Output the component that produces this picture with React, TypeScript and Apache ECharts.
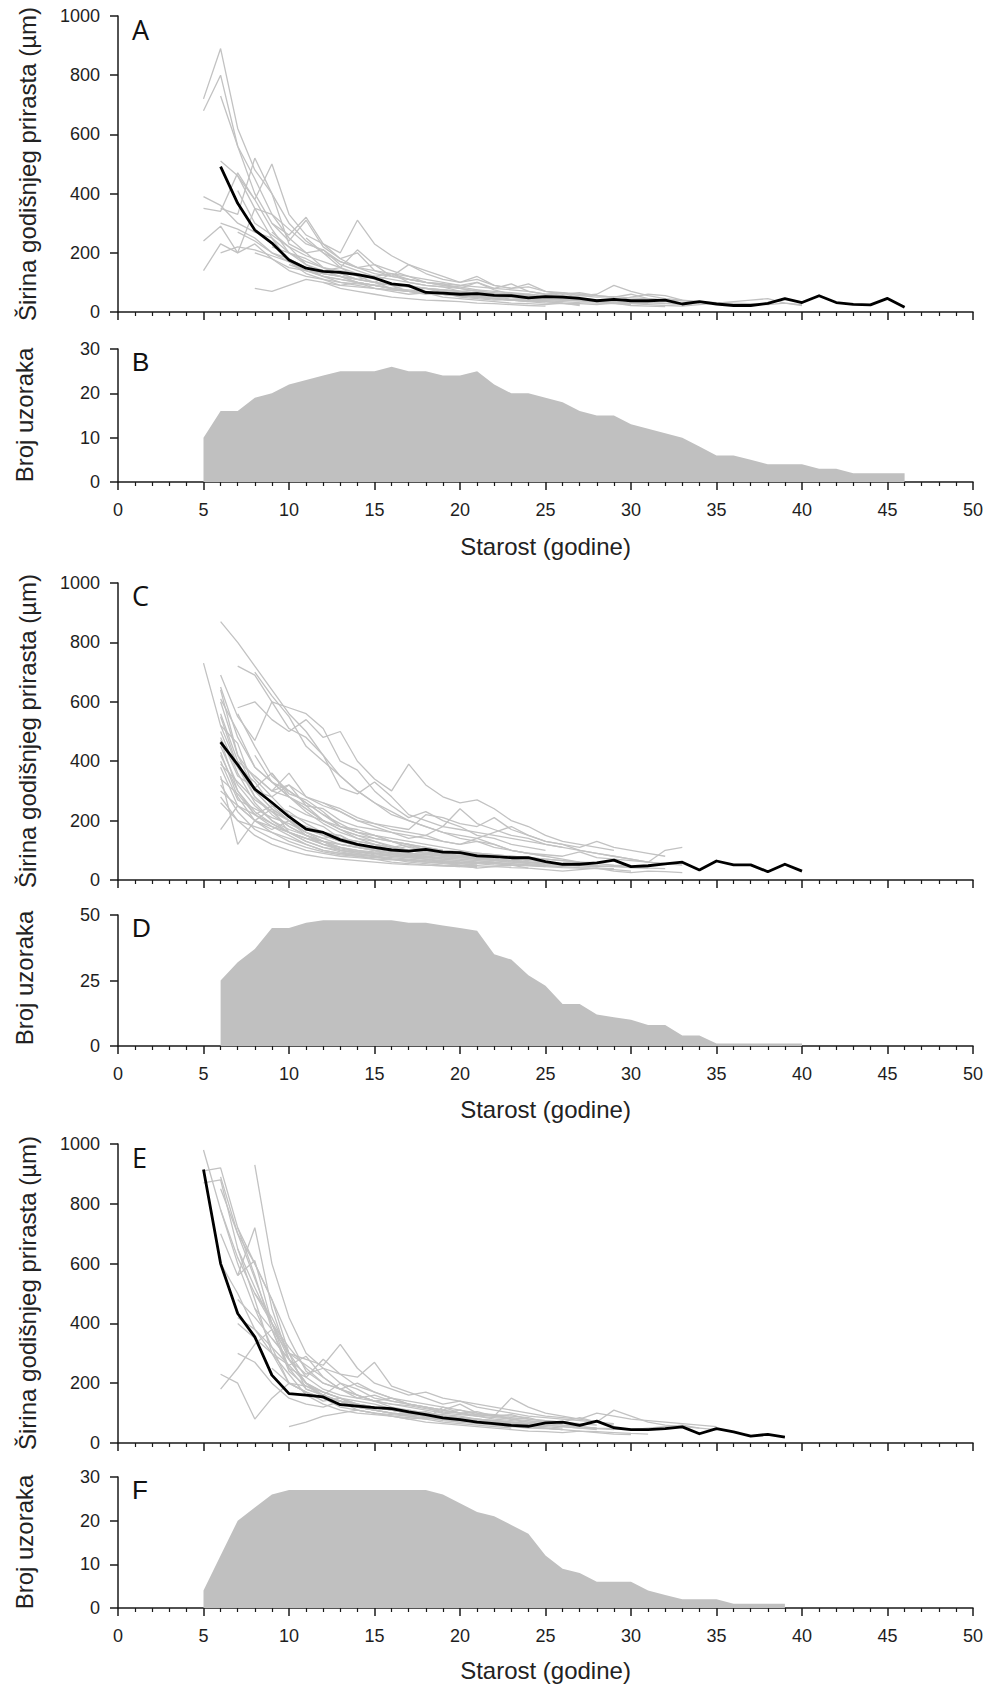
import React, { useEffect, useRef } from "react";
import * as echarts from "echarts";

// ---------- DATA ----------
// Panel A: mean ring width (ages 6..46)
const meanAStart = 6;
const meanA = [491, 367, 277, 233, 176, 148, 137, 134, 126, 115, 95, 89, 66, 64, 60, 62, 56, 55, 48, 52, 50, 46, 38, 43, 38, 38, 40, 27, 35, 27, 22, 22, 29, 45, 32, 55, 32, 26, 24, 46, 16];
// Panel B: sample count (ages 5..46)
const countBStart = 5;
const countB = [10, 16, 16, 19, 20, 22, 23, 24, 25, 25, 25, 26, 25, 25, 24, 24, 25, 22, 20, 20, 19, 18, 16, 15, 15, 13, 12, 11, 10, 8, 6, 6, 5, 4, 4, 4, 3, 3, 2, 2, 2, 2];
// Panel A individual series
const greyAStarts = [5, 5, 6, 5, 5, 5, 5, 6, 7, 8, 6, 7, 9, 8, 10, 6, 11, 9, 6, 7, 10, 9, 12];
const greyAValues = [
  [720, 890, 620, 480, 400, 300, 240, 200, 150, 130, 110, 95, 90, 80, 70, 65, 60, 55, 60, 50, 45, 40, 42, 38, 35, 30, 32, 28, 25, 30],
  [680, 800, 560, 450, 330, 250, 200, 210, 160, 140, 120, 130, 100, 90, 85, 70, 75, 60, 55, 50, 45, 48, 40],
  [730, 560, 400, 300, 240, 310, 220, 180, 150, 160, 120, 110, 100, 95, 80, 70, 60, 55, 50, 45],
  [390, 360, 300, 270, 250, 200, 160, 140, 150, 120, 100, 80, 90, 70, 60, 55, 50, 45, 40, 38, 35, 30, 28, 25, 30, 22, 20, 18],
  [350, 340, 470, 380, 280, 200, 180, 150, 130, 110, 120, 90, 70, 80, 65, 55, 50, 60, 40, 35, 30, 28, 25],
  [240, 290, 200, 230, 180, 140, 120, 110, 100, 90, 80, 75, 70, 60, 65, 50, 45, 40, 42, 38, 35],
  [140, 230, 200, 350, 250, 170, 130, 110, 90, 100, 80, 70, 60, 65, 50, 45, 40, 35, 30, 28, 25, 30, 22],
  [510, 460, 380, 500, 330, 260, 230, 200, 310, 230, 190, 160, 140, 120, 100, 110, 90, 80, 85, 70, 60, 65, 55, 50],
  [410, 300, 260, 220, 160, 130, 120, 100, 90, 80, 75, 70, 60, 55, 50, 45, 40, 35],
  [80, 70, 90, 110, 100, 80, 70, 60, 50, 45, 40, 38, 35, 30, 28, 25, 22, 20],
  [350, 330, 520, 400, 230, 200, 150, 130, 110, 100, 90, 85, 80, 75, 70, 60, 55, 50, 45, 40],
  [460, 350, 330, 280, 230, 210, 170, 150, 140, 120, 160, 130, 110, 100, 120, 90, 80, 95, 70, 65, 60, 55, 50, 60, 45, 40],
  [300, 260, 320, 230, 180, 200, 140, 130, 120, 110, 100, 90, 85, 80, 95, 70, 60, 65, 55, 50, 52, 48, 45, 40, 38, 35, 32, 30, 28, 25, 30, 22],
  [200, 180, 150, 140, 130, 120, 110, 100, 130, 110, 100, 95, 90, 100, 80, 75, 70, 60, 55, 50],
  [180, 150, 140, 120, 110, 100, 95, 85, 80, 75, 70, 65, 60, 55, 60, 50, 45, 40, 35, 30, 28, 25, 22, 20, 25, 30, 35, 40, 45, 30, 25],
  [200, 220, 210, 190, 170, 140, 120, 100, 95, 90, 80, 70, 65, 60, 55, 50, 45, 42, 40],
  [250, 200, 170, 150, 130, 120, 110, 100, 90, 85, 75, 70, 65, 60, 55, 50, 55, 60, 90, 70, 55, 45, 40, 35, 30, 25],
  [270, 220, 190, 170, 150, 210, 160, 140, 120, 100, 90, 80, 100, 75, 60, 55, 50, 65, 45, 40, 35, 50, 60, 55, 40],
  [300, 280, 250, 200, 170, 150, 130, 120, 100, 90, 80, 70, 65, 60, 55, 50, 45, 42, 40, 38, 35, 32, 30, 28, 25],
  [270, 240, 200, 180, 150, 120, 110, 100, 90, 80, 70, 65, 60, 55, 50, 45, 40, 38, 35, 30],
  [160, 140, 120, 110, 100, 90, 95, 85, 80, 75, 70, 60, 55, 50, 45, 40, 42, 38, 35, 30, 28],
  [220, 200, 170, 150, 140, 130, 120, 110, 100, 90, 85, 80, 70, 65, 60, 55, 50, 48, 45, 40, 35, 30, 32, 30, 28],
  [100, 90, 85, 80, 75, 70, 65, 60, 58, 55, 50, 48, 45, 42, 40, 38, 35, 32, 30, 28],
];

// Panel C: mean (ages 6..40)
const meanCStart = 6;
const meanC = [464, 388, 306, 261, 213, 171, 160, 135, 120, 110, 101, 97, 103, 94, 92, 81, 79, 75, 75, 62, 53, 53, 58, 67, 45, 48, 54, 60, 34, 64, 51, 51, 28, 53, 30];
// Panel D: sample count (ages 6..40)
const countDStart = 6;
const countD = [25, 32, 37, 45, 45, 47, 48, 48, 48, 48, 48, 47, 47, 46, 45, 44, 35, 33, 27, 23, 16, 16, 12, 11, 10, 8, 8, 4, 4, 1, 1, 1, 1, 1, 1];
const greyCStarts = [5, 6, 6, 6, 6, 6, 6, 6, 6, 6, 6, 6, 6, 6, 6, 6, 7, 8, 7, 7, 8, 9, 10, 6, 12, 6, 6, 6, 6, 6, 6, 6, 6, 6, 7, 8, 9, 10, 6];
const greyCValues = [
  [730, 520, 380, 300, 240, 200, 160, 140, 120, 110, 100, 90, 85, 80, 70, 65, 60, 55, 50, 48, 45],
  [870, 800, 720, 640, 560, 500, 420, 350, 300, 260, 220, 200, 180, 160, 140, 130, 120, 100, 90, 80, 70, 60],
  [690, 550, 470, 600, 580, 560, 510, 400, 370, 300, 250, 210, 230, 200, 180, 150, 140, 120, 110, 100],
  [650, 480, 380, 330, 300, 260, 220, 180, 160, 150, 130, 120, 100, 95, 90, 85, 80, 75],
  [600, 420, 340, 280, 320, 250, 200, 170, 140, 130, 110, 120, 100, 90, 80, 75, 70, 65, 60, 55],
  [550, 380, 330, 250, 230, 190, 160, 150, 120, 110, 105, 100, 90, 80, 85, 70, 65, 60, 55, 50, 52, 48],
  [520, 460, 300, 280, 220, 200, 180, 140, 130, 120, 100, 90, 85, 90, 80, 70],
  [480, 350, 310, 360, 290, 270, 230, 180, 160, 150, 130, 110, 100, 95, 90, 85, 80, 70, 65, 60, 55, 50, 45, 48, 42, 40],
  [450, 320, 250, 200, 170, 150, 130, 120, 110, 100, 90, 80, 75, 70, 65, 60, 58, 55, 52, 50],
  [420, 300, 230, 190, 160, 140, 120, 110, 100, 95, 90, 85, 80, 75, 70, 65, 60, 55, 50, 45, 42, 40, 38, 35, 30],
  [400, 270, 240, 210, 190, 160, 140, 150, 120, 110, 100, 115, 95, 90, 80, 85, 70, 65],
  [380, 250, 200, 170, 200, 180, 160, 140, 130, 120, 110, 100, 105, 90, 80, 75, 70, 65, 60],
  [350, 120, 200, 180, 160, 140, 130, 100, 90, 80, 70, 60, 55, 50, 48, 45],
  [300, 250, 220, 250, 200, 150, 120, 100, 90, 80, 70, 65, 60, 58, 55, 50],
  [280, 200, 180, 160, 140, 120, 100, 90, 80, 70, 60, 55, 50, 48, 45],
  [170, 250, 200, 240, 160, 130, 110, 100, 95, 90, 80, 75, 70, 65, 60],
  [720, 690, 600, 510, 480, 420, 310, 290, 330, 280, 220, 200, 180, 240, 190, 170, 150, 140, 120, 110],
  [700, 620, 550, 450, 400, 350, 300, 260, 230, 200, 180, 160, 150, 140, 120, 100, 90, 80],
  [580, 600, 540, 500, 540, 480, 500, 400, 340, 300, 390, 320, 280, 260, 270, 240, 200, 180, 150, 130, 120, 110, 100],
  [400, 350, 300, 360, 280, 250, 230, 200, 190, 180, 170, 220, 210, 190, 180, 210, 170, 150, 130, 120, 110, 130, 110, 100, 90, 80],
  [350, 300, 320, 280, 260, 230, 200, 180, 160, 150, 140, 130, 120, 130, 110, 100, 90, 85, 80, 95, 75, 70, 65, 60, 100, 110],
  [300, 280, 250, 240, 200, 180, 170, 160, 140, 150, 130, 120, 140, 160, 180, 150, 130, 120, 100, 90, 80, 70, 60, 55, 50],
  [250, 220, 200, 180, 170, 150, 140, 130, 120, 110, 100, 90, 80, 75, 70, 60, 55, 50, 48, 45, 42, 40, 38],
  [460, 380, 280, 230, 200, 180, 150, 130, 120, 100, 90, 80, 70, 60, 50, 40, 45, 50, 40, 35, 30, 35, 40, 30, 25, 30, 28, 25],
  [260, 240, 210, 190, 170, 160, 150, 180, 170, 160, 150, 140, 130, 120, 110, 100, 90, 80, 70, 60, 55],
  [640, 420, 300, 240, 200, 170, 150, 130, 115, 105, 95, 90, 85, 80, 75, 70, 68, 65, 60],
  [560, 400, 280, 220, 180, 150, 130, 110, 100, 90, 85, 80, 78, 75, 70, 65, 60],
  [500, 360, 260, 200, 160, 140, 120, 105, 95, 90, 85, 80, 90, 85, 75, 70, 65, 60, 58, 55, 50],
  [470, 300, 220, 180, 150, 120, 100, 90, 85, 80, 75, 70, 65, 62, 60, 58, 55],
  [430, 280, 200, 160, 130, 110, 95, 85, 80, 75, 70, 68, 65, 60, 58, 55, 50, 48],
  [390, 330, 270, 230, 180, 150, 130, 120, 110, 100, 90, 80, 75, 70, 80, 75, 70, 65, 60],
  [340, 290, 220, 190, 160, 130, 110, 95, 85, 80, 70, 65, 60, 55, 50, 48, 45, 42, 40],
  [320, 230, 170, 140, 120, 100, 90, 80, 75, 70, 68, 65, 62, 60, 55, 50],
  [260, 200, 150, 120, 100, 85, 75, 70, 65, 60, 55, 52, 50, 48, 45, 42],
  [560, 450, 350, 300, 260, 220, 190, 160, 140, 130, 120, 110, 100, 95, 90, 85, 80, 75, 70, 65, 60, 58],
  [420, 330, 280, 240, 200, 170, 150, 140, 130, 120, 110, 100, 95, 90, 85, 80, 75, 70, 65, 60, 55, 50, 48],
  [360, 280, 230, 190, 160, 140, 120, 110, 100, 95, 90, 80, 75, 70, 65, 60, 55],
  [200, 160, 130, 110, 95, 85, 80, 75, 70, 65, 60, 58, 55, 52, 50, 48, 45, 42, 40, 38],
  [610, 500, 380, 330, 280, 240, 200, 170, 150, 130, 115, 100, 90, 85, 80, 75, 70, 65, 60, 55, 50, 48, 45],
];

// Panel E: mean (ages 5..39)
const meanEStart = 5;
const meanE = [915, 600, 433, 355, 227, 165, 160, 154, 128, 123, 118, 115, 104, 95, 84, 78, 70, 65, 59, 56, 67, 70, 59, 73, 51, 45, 45, 48, 54, 31, 48, 37, 23, 29, 20];
// Panel F: sample count (ages 5..39)
const countFStart = 5;
const countF = [4, 12, 20, 23, 26, 27, 27, 27, 27, 27, 27, 27, 27, 27, 26, 24, 22, 21, 19, 17, 12, 9, 8, 6, 6, 6, 4, 3, 2, 2, 2, 1, 1, 1, 1];
const greyEStarts = [5, 5, 5, 6, 6, 6, 6, 6, 6, 7, 7, 7, 7, 8, 8, 9, 10, 7, 6, 7, 7, 8, 9];
const greyEValues = [
  [980, 780, 600, 450, 320, 200, 170, 150, 130, 120, 110, 100, 95, 90, 85, 80, 75, 70, 65, 60],
  [910, 920, 720, 560, 380, 250, 180, 160, 140, 130, 120, 110, 100, 105, 90, 85, 80, 70, 60, 55, 50, 45],
  [870, 880, 650, 480, 300, 200, 190, 170, 150, 140, 130, 115, 110, 100, 90, 85, 80, 75, 70, 65],
  [890, 700, 600, 480, 350, 240, 200, 180, 150, 160, 140, 130, 120, 110, 100, 90, 95, 80, 70, 75, 60, 55, 50],
  [780, 620, 500, 420, 300, 260, 220, 180, 160, 140, 150, 130, 120, 100, 110, 95, 90, 80, 85, 70, 65],
  [700, 560, 720, 450, 280, 200, 170, 150, 120, 110, 100, 95, 90, 85, 80, 75, 70],
  [600, 500, 380, 300, 260, 290, 220, 180, 200, 170, 150, 130, 120, 110, 100, 105, 90, 95, 80, 75, 70, 85, 70, 60],
  [230, 200, 80, 150, 200, 170, 140, 150, 130, 120, 110, 100, 90, 80, 70, 75, 60, 55],
  [180, 250, 330, 380, 240, 190, 160, 140, 120, 110, 100, 90, 80, 70, 65, 60, 55, 50],
  [720, 600, 480, 300, 180, 160, 200, 160, 140, 120, 110, 100, 95, 90, 80, 75, 70, 65, 60, 55, 50, 48, 45],
  [560, 610, 400, 250, 220, 280, 230, 190, 170, 150, 140, 130, 120, 110, 100, 95, 90, 85],
  [480, 420, 350, 280, 200, 150, 120, 110, 100, 90, 80, 85, 75, 70, 65, 60, 55, 50, 48, 45],
  [400, 350, 300, 230, 160, 130, 110, 100, 95, 90, 80, 70, 65, 60, 55, 50, 45, 40, 38, 35, 40, 35, 30, 28],
  [930, 600, 420, 300, 250, 230, 220, 270, 190, 170, 150, 130, 140, 120, 110, 100, 90, 85, 80, 75, 70, 65],
  [450, 380, 300, 280, 260, 330, 250, 200, 180, 160, 170, 150, 140, 130, 120, 110, 100, 90, 85, 80, 100, 90, 80, 75, 70, 65, 60, 55],
  [350, 280, 230, 250, 200, 180, 150, 140, 130, 120, 110, 130, 100, 90, 150, 120, 100, 90, 80, 70, 110, 90, 70, 60, 55, 50, 45],
  [55, 70, 90, 100, 110, 100, 95, 90, 85, 80, 75, 70, 65, 60, 55, 50, 45, 40, 38, 35, 32, 30],
  [300, 270, 200, 150, 130, 120, 140, 110, 100, 90, 85, 80, 120, 100, 90, 80, 75, 70, 65, 60, 55, 50, 48, 45, 50, 55, 60, 50],
  [850, 700, 550, 400, 280, 200, 160, 140, 120, 110, 100, 95, 90, 85, 80, 75, 70, 65, 60, 55],
  [650, 520, 400, 320, 250, 200, 180, 160, 140, 130, 120, 110, 100, 95, 90, 85, 80, 75, 70],
  [420, 380, 320, 260, 200, 170, 150, 130, 120, 110, 100, 90, 85, 80, 75, 70, 65, 60, 55, 50],
  [500, 400, 300, 220, 180, 160, 150, 140, 130, 125, 115, 105, 100, 95, 90, 85, 80, 75, 70, 65, 60],
  [250, 200, 170, 150, 140, 130, 120, 110, 100, 95, 90, 85, 80, 75, 70, 65, 60, 55, 50, 45],
];

const panelLetters = ["A", "B", "C", "D", "E", "F"];
const yMaxes = [1000, 30, 1000, 50, 1000, 30];
const yIntervals = [200, 10, 200, 25, 200, 10];
const widthTitle = "Širina godišnjeg prirasta (µm)";
const countTitle = "Broj uzoraka";
const xTitle = "Starost (godine)";

// ---------- LAYOUT ----------
const LEFT = 118;
const PLOT_W = 855;
const gridBoxes = [
  { top: 16, height: 296 },
  { top: 349, height: 133 },
  { top: 583, height: 297 },
  { top: 915, height: 131 },
  { top: 1144, height: 299 },
  { top: 1477, height: 131 },
];
const letterY = [29, 362, 595, 928, 1157, 1490];
const yTitleX = [27, 24, 27, 24, 27, 24];
const yTitleY = [164, 415, 731, 978, 1293, 1542];
const xTitleY = [546, 1109, 1670];

const FONT = 'Arial, "Liberation Sans", sans-serif';
const AXIS = "#1a1a1a";
const GREY_LINE = "#c2c2c2";
const AREA = "#c0c0c0";

function toPairs(start: number, vals: number[]) {
  return vals.map((v, i) => [start + i, v]);
}

function buildOption() {
  const grid = gridBoxes.map((g) => ({ left: LEFT, width: PLOT_W, top: g.top, height: g.height }));
  const xAxis = gridBoxes.map((_, i) => ({
    type: "value",
    gridIndex: i,
    min: 0,
    max: 50,
    interval: 5,
    axisLine: { show: true, onZero: false, lineStyle: { color: AXIS, width: 1.5 } },
    axisTick: { show: true, inside: false, length: 8, lineStyle: { color: AXIS, width: 1.5 } },
    minorTick: { show: true, splitNumber: 5, length: 4, lineStyle: { color: AXIS, width: 1.2 } },
    splitLine: { show: false },
    minorSplitLine: { show: false },
    axisLabel: {
      show: i % 2 === 1,
      margin: 19,
      color: "#1e1e1e",
      fontSize: 18,
      fontFamily: FONT,
      formatter: (v: number) => String(v),
    },
  }));
  const yAxis = gridBoxes.map((_, i) => ({
    type: "value",
    gridIndex: i,
    min: 0,
    max: yMaxes[i],
    interval: yIntervals[i],
    axisLine: { show: true, onZero: false, lineStyle: { color: AXIS, width: 1.5 } },
    axisTick: { show: true, inside: false, length: 8, lineStyle: { color: AXIS, width: 1.5 } },
    splitLine: { show: false },
    axisLabel: {
      show: true,
      margin: 18,
      color: "#1e1e1e",
      fontSize: 18,
      fontFamily: FONT,
      formatter: (v: number) => String(v),
    },
  }));

  const series: any[] = [];
  const addGrey = (starts: number[], vals: number[][], idx: number) => {
    vals.forEach((v, k) => {
      series.push({
        type: "line",
        xAxisIndex: idx,
        yAxisIndex: idx,
        data: toPairs(starts[k], v),
        symbol: "none",
        silent: true,
        lineStyle: { color: GREY_LINE, width: 1.3 },
        z: 2,
      });
    });
  };
  const addMean = (start: number, vals: number[], idx: number) => {
    series.push({
      type: "line",
      xAxisIndex: idx,
      yAxisIndex: idx,
      data: toPairs(start, vals),
      symbol: "none",
      silent: true,
      lineStyle: { color: "#000", width: 2.8, join: "round" },
      z: 5,
    });
  };
  const addCount = (start: number, vals: number[], idx: number) => {
    series.push({
      type: "line",
      xAxisIndex: idx,
      yAxisIndex: idx,
      data: toPairs(start, vals),
      symbol: "none",
      silent: true,
      lineStyle: { width: 0, color: AREA },
      areaStyle: { color: AREA, opacity: 1 },
      z: 2,
    });
  };

  addGrey(greyAStarts, greyAValues, 0);
  addMean(meanAStart, meanA, 0);
  addCount(countBStart, countB, 1);
  addGrey(greyCStarts, greyCValues, 2);
  addMean(meanCStart, meanC, 2);
  addCount(countDStart, countD, 3);
  addGrey(greyEStarts, greyEValues, 4);
  addMean(meanEStart, meanE, 4);
  addCount(countFStart, countF, 5);

  const graphic: any[] = [];
  panelLetters.forEach((L, i) => {
    graphic.push({
      type: "text",
      x: 132,
      y: letterY[i],
      style: {
        text: L,
        fill: "#111",
        font: i % 2 === 0 ? '27px "Open Sans", "Noto Sans", sans-serif' : `26px ${FONT}`,
        textAlign: "left",
        textVerticalAlign: "middle",
      },
      z: 10,
    });
    graphic.push({
      type: "text",
      x: yTitleX[i],
      y: yTitleY[i],
      rotation: Math.PI / 2,
      style: {
        text: i % 2 === 0 ? widthTitle : countTitle,
        fill: "#222",
        font: `24px ${FONT}`,
        textAlign: "center",
        textVerticalAlign: "middle",
      },
      z: 10,
    });
  });
  xTitleY.forEach((y) => {
    graphic.push({
      type: "text",
      x: LEFT + PLOT_W / 2,
      y,
      style: {
        text: xTitle,
        fill: "#222",
        font: `24px ${FONT}`,
        textAlign: "center",
        textVerticalAlign: "middle",
      },
      z: 10,
    });
  });

  return {
    animation: false,
    backgroundColor: "#fff",
    grid,
    xAxis,
    yAxis,
    series,
    graphic,
  };
}

export default function App() {
  const ref = useRef<HTMLDivElement>(null);
  useEffect(() => {
    if (!ref.current) return;
    const chart = echarts.init(ref.current, undefined, { renderer: "svg" });
    chart.setOption(buildOption() as any);
    return () => chart.dispose();
  }, []);
  return (
    <div
      ref={ref}
      style={{ position: "absolute", left: 0, top: 0, width: 991, height: 1688, background: "#fff" }}
    />
  );
}
